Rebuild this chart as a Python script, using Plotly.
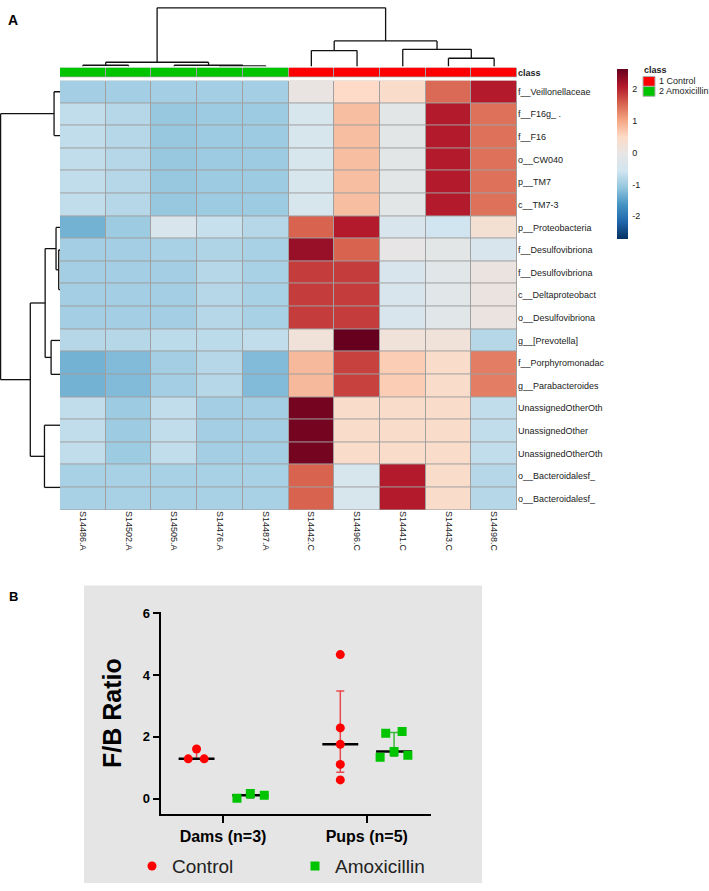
import plotly.graph_objects as go

W, H = 709, 891
FONT = "Liberation Sans, Arial, sans-serif"

# ---------------- Panel A data ----------------
samples = ["S14486.A", "S14502.A", "S14505.A", "S14476.A", "S14487.A",
           "S14442.C", "S14496.C", "S14441.C", "S14443.C", "S14498.C"]
sample_class = ["2 Amoxicillin"] * 5 + ["1 Control"] * 5
class_names = ["1 Control", "2 Amoxicillin"]
class_colors = ["#ff0000", "#00c400"]

taxa = ["f__Veillonellaceae", "f__F16g_ .", "f__F16", "o__CW040", "p__TM7", "c__TM7-3",
        "p__Proteobacteria", "f__Desulfovibriona", "f__Desulfovibriona", "c__Deltaproteobact",
        "o__Desulfovibriona", "g__[Prevotella]", "f__Porphyromonadac", "g__Parabacteroides",
        "UnassignedOtherOth", "UnassignedOther", "UnassignedOtherOth",
        "o__Bacteroidalesf_", "o__Bacteroidalesf_"]

row_veillonellaceae = [-0.95, -0.95, -0.95, -0.95, -0.95, 0.05, 0.5, 0.45, 1.5, 2.1]
row_f16 = [-0.7, -0.8, -1.05, -1.0, -1.0, -0.4, 0.8, -0.1, 2.1, 1.45]
row_proteobacteria = [-1.3, -1.0, -0.35, -0.65, -0.8, 1.55, 2.1, -0.35, -0.55, 0.3]
row_desulfo_1 = [-0.95, -0.95, -0.9, -0.85, -0.9, 2.3, 1.55, 0.0, -0.1, -0.35]
row_desulfo_2 = [-0.95, -0.95, -0.95, -0.8, -0.9, 1.85, 1.85, -0.35, -0.15, 0.1]
row_prevotella = [-0.8, -0.8, -0.75, -0.75, -0.7, 0.2, 2.65, 0.2, 0.2, -0.8]
row_porphyro = [-1.3, -1.2, -0.95, -0.8, -1.2, 0.85, 1.8, 0.65, 0.45, 1.35]
row_unassigned = [-0.7, -1.0, -0.7, -0.95, -0.95, 2.55, 0.45, 0.45, 0.45, -0.7]
row_bacteroidales = [-0.9, -0.9, -0.9, -0.9, -0.9, 1.55, -0.4, 2.1, 0.45, -0.8]

heat_rows = [row_veillonellaceae, row_f16, row_f16, row_f16, row_f16, row_f16,
             row_proteobacteria, row_desulfo_1, row_desulfo_2, row_desulfo_2, row_desulfo_2,
             row_prevotella, row_porphyro, row_porphyro,
             row_unassigned, row_unassigned, row_unassigned,
             row_bacteroidales, row_bacteroidales]

z_min, z_max = -2.7, 2.65
colorbar_ticks = [-2, -1, 0, 1, 2]
colorbar_ticktext = ["-2", "-1", "0", "1", "2"]
rdbu_rev = ["#053061", "#2166AC", "#4393C3", "#92C5DE", "#D1E5F0", "#E6E6E6",
            "#FDDBC7", "#F4A582", "#D6604D", "#B2182B", "#67001F"]

# hierarchical clustering merges: (child_a, child_b, height); new node ids follow leaves
col_merges = [(0, 1, 1.3), (3, 4, 0.7), (2, 11, 1.3), (10, 12, 4.3), (5, 6, 16.0),
              (8, 9, 8.3), (7, 15, 17.3), (14, 16, 25.7), (13, 17, 59.0)]
row_merges = [(4, 5, 0), (3, 19, 0), (2, 20, 0), (1, 21, 0), (0, 22, 6.0),
              (9, 10, 0), (8, 24, 0), (7, 25, 1.3), (6, 26, 4.0),
              (12, 13, 0), (11, 28, 9.0), (27, 29, 15.0),
              (15, 16, 0), (14, 31, 0), (17, 18, 0), (32, 33, 15.7),
              (30, 34, 30.0), (23, 35, 60.0)]

# ---------------- Panel B data ----------------
groups = ["Dams (n=3)", "Pups (n=5)"]
control_vals = [[1.29, 1.61, 1.29], [4.66, 2.29, 1.76, 1.11, 0.61]]
control_spread = [[-0.058, 0.0, 0.053], [0, 0, 0, 0, 0]]
amox_vals = [[0.02, 0.17, 0.11], [1.34, 2.12, 1.53, 2.17, 1.41]]
amox_spread = [[-0.093, 0.0, 0.097], [-0.097, -0.058, 0.0, 0.056, 0.096]]
control_median = [1.29, 1.76]
control_q1 = [1.29, 0.86]
control_q3 = [1.61, 3.48]
amox_median = [0.11, 1.53]
amox_q1 = [0.02, 1.375]
amox_q3 = [0.17, 2.145]
y_ticks_b = [0, 2, 4, 6]


# ---------------- helpers ----------------
def xd(a, b):
    return [a / W, b / W]


def yd(top, bottom):
    return [1 - bottom / H, 1 - top / H]


def dendro_segments(n_leaves, merges):
    pos = {i: float(i) for i in range(n_leaves)}
    hgt = {i: 0.0 for i in range(n_leaves)}
    segs = []
    for k, (a, b, h) in enumerate(merges):
        node = n_leaves + k
        for c in (a, b):
            if h > hgt[c]:
                segs.append(((pos[c], hgt[c]), (pos[c], h)))
        if h > 0:
            segs.append(((pos[a], h), (pos[b], h)))
        pos[node] = (pos[a] + pos[b]) / 2
        hgt[node] = h
    return segs


fig = go.Figure()

n_cols, n_rows = len(samples), len(taxa)
col_idx = list(range(n_cols))
row_idx = list(range(n_rows))

# main heatmap
fig.add_trace(go.Heatmap(
    z=heat_rows, x=col_idx, y=row_idx, xaxis="x", yaxis="y",
    zmin=z_min, zmax=z_max,
    colorscale=[[i / (len(rdbu_rev) - 1), c] for i, c in enumerate(rdbu_rev)],
    xgap=1, ygap=1,
    colorbar=dict(x=617 / W, xanchor="left", xpad=0, y=1 - 62 / H, yanchor="top",
                  ypad=0, len=170, lenmode="pixels", thickness=11, outlinewidth=0,
                  tickvals=colorbar_ticks, ticktext=colorbar_ticktext,
                  ticks="outside", ticklen=3, tickcolor="rgba(0,0,0,0)",
                  tickfont=dict(size=9, family=FONT, color="#222")),
))

# class annotation bar
class_codes = [class_names.index(c) for c in sample_class]
fig.add_trace(go.Heatmap(
    z=[class_codes], x=col_idx, y=[0], xaxis="x2", yaxis="y2",
    zmin=0, zmax=1, showscale=False, xgap=1, ygap=1,
    colorscale=[[0, class_colors[0]], [0.5, class_colors[0]],
                [0.5, class_colors[1]], [1, class_colors[1]]],
))

# column dendrogram
xs, ys = [], []
for (p0, h0), (p1, h1) in dendro_segments(n_cols, col_merges):
    xs += [p0, p1, None]
    ys += [h0, h1, None]
fig.add_trace(go.Scatter(x=xs, y=ys, mode="lines", xaxis="x3", yaxis="y3",
                         line=dict(color="#111", width=1.3), showlegend=False,
                         hoverinfo="skip"))

# row dendrogram
xs, ys = [], []
for (p0, h0), (p1, h1) in dendro_segments(n_rows, row_merges):
    xs += [h0, h1, None]
    ys += [p0, p1, None]
fig.add_trace(go.Scatter(x=xs, y=ys, mode="lines", xaxis="x4", yaxis="y4",
                         line=dict(color="#111", width=1.3), showlegend=False,
                         hoverinfo="skip"))

# ---------------- Panel B traces ----------------
ctrl_off, amox_off = -0.184, 0.19
med_half = 0.125

for med, q1, q3, off, col in [(control_median, control_q1, control_q3, ctrl_off, "#e8484b"),
                              (amox_median, amox_q1, amox_q3, amox_off, "#3cb83c")]:
    fig.add_trace(go.Scatter(
        x=[g + off for g in range(len(groups))], y=med, mode="markers",
        xaxis="x5", yaxis="y5", marker=dict(size=1, color="rgba(0,0,0,0)"),
        error_y=dict(type="data", symmetric=False,
                     array=[b - m for b, m in zip(q3, med)],
                     arrayminus=[m - a for a, m in zip(q1, med)],
                     color=col, thickness=1.5, width=4),
        error_x=dict(type="constant", value=med_half, color="black",
                     thickness=2.5, width=0),
        showlegend=False, hoverinfo="skip"))

cx, cy, ax_, ay = [], [], [], []
for g in range(len(groups)):
    cx += [g + ctrl_off + s for s in control_spread[g]]
    cy += control_vals[g]
    ax_ += [g + amox_off + s for s in amox_spread[g]]
    ay += amox_vals[g]

fig.add_trace(go.Scatter(x=cx, y=cy, mode="markers", name="Control",
                         xaxis="x5", yaxis="y5",
                         marker=dict(symbol="circle", size=9, color="#ff0000")))
fig.add_trace(go.Scatter(x=ax_, y=ay, mode="markers", name="Amoxicillin",
                         xaxis="x5", yaxis="y5",
                         marker=dict(symbol="square", size=9, color="#00c400")))

# ---------------- layout ----------------
hidden = dict(showgrid=False, zeroline=False, showticklabels=False, ticks="",
              showline=False)

shapes = [
    dict(type="rect", xref="x", yref="y", x0=-0.5, x1=n_cols - 0.5,
         y0=-0.5, y1=n_rows - 0.5, fillcolor="#a0a0a0", line=dict(width=0),
         layer="below"),
    dict(type="rect", xref="x2", yref="y2", x0=-0.5, x1=n_cols - 0.5,
         y0=-0.5, y1=0.5, fillcolor="#a0a0a0", line=dict(width=0), layer="below"),
    dict(type="rect", xref="paper", yref="paper", x0=84 / W, x1=482 / W,
         y0=1 - 883 / H, y1=1 - 583 / H, fillcolor="#e5e5e5",
         line=dict(width=0), layer="below"),
]

annotations = [
    dict(text="<b>A</b>", x=13 / W, y=1 - 13 / H, xref="paper", yref="paper",
         xanchor="center", yanchor="middle", showarrow=False,
         font=dict(size=14, family=FONT, color="black")),
    dict(text="<b>B</b>", x=13 / W, y=1 - 594 / H, xref="paper", yref="paper",
         xanchor="center", yanchor="middle", showarrow=False,
         font=dict(size=13, family=FONT, color="black")),
    dict(text="<b>class</b>", x=642 / W, y=1 - 64 / H, xref="paper", yref="paper",
         xanchor="left", yanchor="middle", showarrow=False,
         font=dict(size=9, family=FONT, color="#222")),
]
for i, (nm, colr) in enumerate(zip(class_names, class_colors)):
    top = 70 + i * 10
    shapes.append(dict(type="rect", xref="paper", yref="paper",
                       x0=643 / W, x1=655 / W, y0=1 - (top + 10) / H, y1=1 - top / H,
                       fillcolor=colr, line=dict(color="#b0b0b0", width=1)))
    annotations.append(dict(text=nm, x=657 / W, y=1 - (top + 5) / H, xref="paper",
                            yref="paper", xanchor="left", yanchor="middle",
                            showarrow=False,
                            font=dict(size=9, family=FONT, color="#222")))

fig.update_layout(
    width=W, height=H, margin=dict(l=0, r=0, t=0, b=0),
    paper_bgcolor="white", plot_bgcolor="rgba(0,0,0,0)",
    font=dict(family=FONT, color="black"),
    shapes=shapes, annotations=annotations,
    xaxis=dict(domain=xd(60, 517), range=[-0.5, n_cols - 0.5], tickvals=col_idx,
               ticktext=samples, tickangle=90, ticks="", showgrid=False, zeroline=False,
               tickfont=dict(size=9, family=FONT, color="#222")),
    yaxis=dict(domain=yd(74, 507), range=[n_rows - 0.5, -0.5], tickvals=row_idx,
               ticktext=taxa, side="right", ticks="", showgrid=False, zeroline=False,
               tickfont=dict(size=9, family=FONT, color="#222")),
    xaxis2=dict(domain=xd(60, 517), range=[-0.5, n_cols - 0.5], anchor="y2", **hidden),
    yaxis2=dict(domain=yd(61, 71), range=[-0.5, 0.5], anchor="x2", side="right",
                tickvals=[0], ticktext=["<b>class</b>"], ticks="", showgrid=False,
                zeroline=False, tickfont=dict(size=9, family=FONT, color="#222")),
    xaxis3=dict(domain=xd(60, 517), range=[-0.5, n_cols - 0.5], anchor="y3", **hidden),
    yaxis3=dict(domain=yd(0, 60), range=[0, 59.8], anchor="x3", **hidden),
    xaxis4=dict(domain=xd(0, 60), range=[60.6, 0], anchor="y4", **hidden),
    yaxis4=dict(domain=yd(74, 507), range=[n_rows - 0.5, -0.5], anchor="x4", **hidden),
    xaxis5=dict(domain=xd(160.7, 431), range=[-0.4335, 1.447], anchor="y5",
                tickvals=list(range(len(groups))), ticktext=groups,
                showline=True, linewidth=2, linecolor="black", ticks="outside",
                ticklen=7, tickwidth=2, tickcolor="black", showgrid=False,
                zeroline=False,
                tickfont=dict(size=16, family=FONT, color="black", weight="bold")),
    yaxis5=dict(domain=yd(610, 813.3), range=[-0.49, 6.03], anchor="x5",
                tickvals=y_ticks_b, showline=True, linewidth=2, linecolor="black",
                ticks="outside", ticklen=6, tickwidth=2, tickcolor="black",
                showgrid=False, zeroline=False,
                tickfont=dict(size=13, family=FONT, color="black", weight="bold"),
                title=dict(text="F/B Ratio", standoff=14,
                           font=dict(size=25, family=FONT, color="black", weight="bold"))),
    legend=dict(orientation="h", x=132 / W, y=1 - 866 / H, xanchor="left",
                yanchor="middle", bgcolor="rgba(0,0,0,0)", entrywidth=118,
                font=dict(size=19, family=FONT, color="#222")),
)

fig.write_html("out.html", config={"displayModeBar": False},
               post_script="document.body.style.margin='0px';")
